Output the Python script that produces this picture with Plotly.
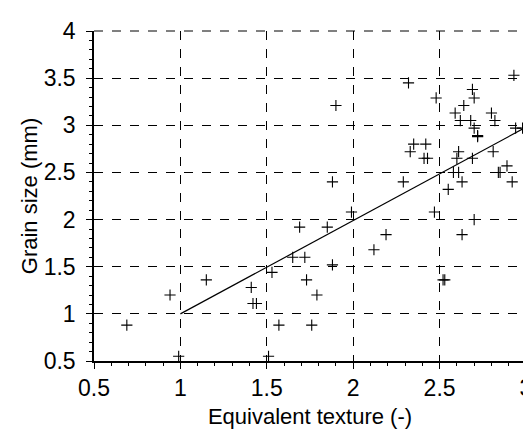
import plotly.graph_objects as go

texture = [0.69, 0.94, 1.15, 0.99, 1.41, 1.42, 1.44, 1.53, 1.51, 1.57,
           1.69, 1.65, 1.72, 1.73, 1.76, 1.88, 1.85, 1.99, 1.88, 1.79,
           2.19, 2.12, 2.29, 2.47, 2.52, 2.53, 2.58, 2.61, 2.63, 2.55,
           2.70, 2.63, 2.84, 2.85, 2.92, 2.32, 1.90, 2.48, 2.69, 2.70,
           2.64, 2.59, 2.62, 2.68, 2.80, 2.82, 2.70, 2.72, 2.72, 2.93,
           2.94, 2.98, 2.35, 2.42, 2.33, 2.41, 2.43, 2.61, 2.60, 2.69,
           2.81, 2.89]
grain = [0.88, 1.20, 1.36, 0.55, 1.28, 1.11, 1.11, 1.44, 0.55, 0.88,
         1.92, 1.60, 1.60, 1.36, 0.88, 2.40, 1.92, 2.08, 1.52, 1.20,
         1.84, 1.68, 2.40, 2.08, 1.36, 1.36, 2.50, 2.50, 2.40, 2.32,
         2.00, 1.84, 2.50, 2.50, 2.40, 3.45, 3.21, 3.29, 3.38, 3.29,
         3.21, 3.13, 3.05, 3.05, 3.13, 3.05, 2.97, 2.89, 2.88, 3.53,
         2.97, 2.97, 2.80, 2.80, 2.72, 2.65, 2.65, 2.72, 2.65, 2.65,
         2.72, 2.57]

fit_x = [1.0, 3.0]
fit_y = [1.0, 2.98]

x_ticks = [0.5, 1, 1.5, 2, 2.5, 3]
y_ticks = [0.5, 1, 1.5, 2, 2.5, 3, 3.5, 4]

fig = go.Figure()
fig.add_trace(go.Scatter(
    x=texture, y=grain, mode="markers",
    marker=dict(symbol="cross-thin-open", size=8, color="black",
                line=dict(color="black", width=1.1)),
    showlegend=False, cliponaxis=False))
fig.add_trace(go.Scatter(
    x=fit_x, y=fit_y, mode="lines",
    line=dict(color="black", width=1.2), showlegend=False))

tick_font = dict(family="Liberation Sans, Arial, sans-serif", size=23, color="black")
title_font = dict(family="Liberation Sans, Arial, sans-serif", size=22, color="black")

common = dict(
    showgrid=True, gridcolor="black", griddash="dash", gridwidth=1,
    showline=True, linecolor="black", linewidth=1.5,
    ticks="outside", ticklen=6, tickwidth=1, tickcolor="black",
    minor=dict(ticks="outside", ticklen=3, tickwidth=1, tickcolor="black",
               dtick=0.1, showgrid=False),
    zeroline=False, tickfont=tick_font, mirror=False,
)

fig.update_xaxes(range=[0.5, 3], tickvals=x_ticks,
                 ticktext=[f"{v:g}" for v in x_ticks],
                 title=dict(text="Equivalent texture (-)", font=title_font, standoff=8),
                 **common)
fig.update_yaxes(range=[0.5, 4], tickvals=y_ticks,
                 ticktext=[f"{v:g}" for v in y_ticks],
                 ticklabelstandoff=6,
                 title=dict(text="Grain size (mm)", font=title_font, standoff=0),
                 **common)

# dashed frame on the top and right edges (grid lines at the range limits)
edge = dict(type="line", xref="paper", yref="paper",
            line=dict(color="black", width=1, dash="dash"), layer="above")
fig.add_shape(x0=0, x1=1, y0=1, y1=1, **edge)
fig.add_shape(x0=1, x1=1, y0=0, y1=1, **edge)

fig.update_layout(
    width=531, height=429,
    margin=dict(l=86, r=7, t=23, b=76),
    plot_bgcolor="white", paper_bgcolor="white",
    font=tick_font,
)

fig.write_html("out.html")
